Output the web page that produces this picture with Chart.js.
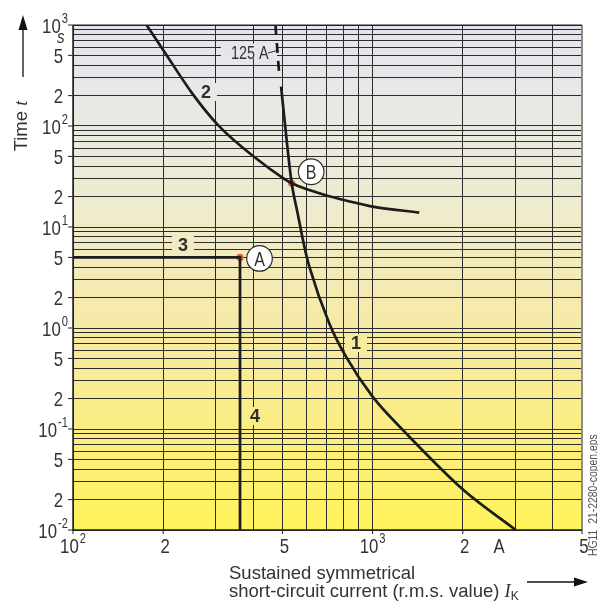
<!DOCTYPE html>
<html>
<head>
<meta charset="utf-8">
<script src="https://cdn.jsdelivr.net/npm/chart.js@4"></script>
<style>
  html, body { margin: 0; padding: 0; background: #fff; }
  #wrap { width: 598px; height: 602px; }
</style>
</head>
<body>
<div id="wrap"><canvas id="chart" width="598" height="602"></canvas></div>
<script>
// tick labels
const xLabelValues = [100, 200, 500, 1000, 2000, 5000];
const xLabelTexts = ['10', '2', '5', '10', '2', '5'];
const xLabelSups = ['2', '', '', '3', '', ''];
const yLabelValues = [1000, 500, 200, 100, 50, 20, 10, 5, 2, 1, 0.5, 0.2, 0.1, 0.05, 0.02, 0.01];
const yLabelTexts = ['10', '5', '2', '10', '5', '2', '10', '5', '2', '10', '5', '2', '10', '5', '2', '10'];
const yLabelSups = ['3', '', '', '2', '', '', '1', '', '', '0', '', '', '-1', '', '', '-2'];

// grid lines (1..9 per decade)
const xGridValues = [100, 200, 300, 400, 500, 600, 700, 800, 900, 1000, 2000, 3000, 4000, 5000];
const yGridValues = [];
for (let e = -2; e <= 2; e++) {
  for (let m = 1; m <= 9; m++) yGridValues.push(+(m * Math.pow(10, e)).toPrecision(3));
}
yGridValues.push(1000);

// curve 1: fuse 125 A (dashed upper part + solid)
const fuseDashX = [474, 481, 489];
const fuseDashY = [1000, 560, 299];
const fuseX = [495, 511, 537, 562, 592, 615, 717, 815, 1000, 1292, 2011, 3006];
const fuseY = [245, 98.4, 27.1, 13.7, 6.38, 4.05, 1.11, 0.52, 0.209, 0.091, 0.0249, 0.01];

// curve 2
const curve2X = [176, 202, 251, 306, 405, 504, 537, 615, 711, 815, 1000, 1431];
const curve2Y = [1000, 541, 207, 101, 48.7, 30.3, 27.1, 23.2, 20.3, 18.3, 15.9, 13.9];

// curves 3 + 4: setting lines meeting at A
const setX = [100, 361, 361];
const setY = [5, 5, 0.01];

// marked points A and B
const pointNames = ['A', 'B'];
const pointX = [361, 537];
const pointY = [5, 27.1];

const FONT = '"Liberation Sans", Arial, sans-serif';
const INK = '#2e2e2e';
const SQUEEZE = 0.8;

function pts(xs, ys) { return xs.map((x, i) => ({ x: x, y: ys[i] })); }

// condensed text: regular face squeezed horizontally
function narrowWidth(ctx, t, size) {
  ctx.font = size + 'px ' + FONT;
  return ctx.measureText(t).width * SQUEEZE;
}
function narrowText(ctx, t, x, y, size, style) {
  ctx.save();
  ctx.font = (style ? style + ' ' : '') + size + 'px ' + FONT;
  ctx.textAlign = 'left';
  ctx.textBaseline = 'alphabetic';
  ctx.translate(x, y);
  ctx.scale(SQUEEZE, 1);
  ctx.fillText(t, 0, 0);
  ctx.restore();
}

function drawPow(ctx, base, sup, x, y, align, size) {
  const ss = Math.round(size * 0.68);
  const wb = narrowWidth(ctx, base, size);
  const ws = sup ? narrowWidth(ctx, sup, ss) + 1 : 0;
  let x0 = x;
  if (align === 'right') x0 = x - wb - ws;
  if (align === 'center') x0 = x - (wb + ws) / 2;
  narrowText(ctx, base, x0, y, size);
  if (sup) narrowText(ctx, sup, x0 + wb + 1, y - size * 0.47, ss);
}

// box filled with the background so the grid is hidden behind a label
function labelBox(chart, x, y, w, h) {
  const ctx = chart.ctx;
  ctx.fillStyle = chart.$bg;
  ctx.fillRect(x - w / 2, y - h / 2, w, h);
}

const decor = {
  id: 'decor',
  beforeDraw(chart) {
    const { ctx, chartArea: a } = chart;
    const g = ctx.createLinearGradient(0, a.top, 0, a.bottom);
    g.addColorStop(0, '#e3e5ef');
    g.addColorStop(0.2, '#eae9e2');
    g.addColorStop(0.4, '#f0ebc8');
    g.addColorStop(0.6, '#f6eaa4');
    g.addColorStop(0.8, '#fbed84');
    g.addColorStop(1, '#fff35a');
    chart.$bg = g;
    ctx.save();
    ctx.fillStyle = g;
    ctx.fillRect(a.left, a.top, a.right - a.left, a.bottom - a.top);
    ctx.restore();
  },
  beforeDatasetsDraw(chart) {
    const ctx = chart.ctx;
    ctx.save();
    // curve numbers
    const nums = [['2', 206, 92], ['3', 183, 245], ['4', 255, 416], ['1', 356, 343]];
    nums.forEach(n => labelBox(chart, n[1], n[2], 22, 18));
    labelBox(chart, 249, 51, 56, 15);
    ctx.fillStyle = INK;
    ctx.font = 'bold 18px ' + FONT;
    ctx.textAlign = 'center';
    ctx.textBaseline = 'middle';
    nums.forEach(n => ctx.fillText(n[0], n[1], n[2] + 1));
    ctx.fillStyle = '#333';
    narrowText(ctx, '125 A', 231, 58.5, 18);
    ctx.strokeStyle = INK;
    ctx.lineWidth = 1;
    ctx.beginPath();
    ctx.moveTo(268, 53);
    ctx.lineTo(277, 50.5);
    ctx.stroke();
    ctx.restore();
  },
  afterDatasetsDraw(chart) {
    const ctx = chart.ctx;
    const xs = chart.scales.x, ys = chart.scales.y;
    const offs = [[19.5, 1], [19.5, -11.5]];
    ctx.save();
    pointNames.forEach((name, i) => {
      const cx = xs.getPixelForValue(pointX[i]) + offs[i][0];
      const cy = ys.getPixelForValue(pointY[i]) + offs[i][1];
      ctx.beginPath();
      ctx.arc(cx, cy, 12.8, 0, Math.PI * 2);
      ctx.fillStyle = '#fff';
      ctx.fill();
      ctx.lineWidth = 1.2;
      ctx.strokeStyle = INK;
      ctx.stroke();
      ctx.fillStyle = '#333';
      const w = narrowWidth(ctx, name, 20);
      narrowText(ctx, name, cx - w / 2, cy + 7.5, 20);
    });
    ctx.restore();
  },
  afterDraw(chart) {
    const { ctx, chartArea: a } = chart;
    const xs = chart.scales.x, ys = chart.scales.y;
    ctx.save();
    // frame
    ctx.strokeStyle = '#8c8c8c';
    ctx.lineWidth = 2;
    ctx.beginPath(); ctx.moveTo(a.right, a.top); ctx.lineTo(a.right, a.bottom); ctx.stroke();
    ctx.strokeStyle = '#222';
    ctx.lineWidth = 1.5;
    ctx.beginPath();
    ctx.moveTo(a.left, a.top); ctx.lineTo(a.left, a.bottom); ctx.lineTo(a.right, a.bottom);
    ctx.stroke();
    ctx.lineWidth = 1;
    ctx.beginPath(); ctx.moveTo(a.left, a.top); ctx.lineTo(a.right, a.top); ctx.stroke();

    // tick marks + labels
    ctx.fillStyle = '#333';
    ctx.lineWidth = 1;
    yLabelValues.forEach((v, i) => {
      const y = ys.getPixelForValue(v);
      ctx.beginPath(); ctx.moveTo(a.left - 5, y); ctx.lineTo(a.left, y); ctx.stroke();
      const right = yLabelSups[i] ? 68 : 63;
      drawPow(ctx, yLabelTexts[i], yLabelSups[i], right, y + 7.5, 'right', 21);
    });
    narrowText(ctx, 's', 57, 43, 19, 'italic');
    xLabelValues.forEach((v, i) => {
      const x = xs.getPixelForValue(v);
      ctx.beginPath(); ctx.moveTo(x, a.bottom); ctx.lineTo(x, a.bottom + 4); ctx.stroke();
      drawPow(ctx, xLabelTexts[i], xLabelSups[i], x + (xLabelSups[i] ? 0 : 2), 553, 'center', 21);
    });
    const wa = narrowWidth(ctx, 'A', 21);
    narrowText(ctx, 'A', 499 - wa / 2, 553, 21);

    // x axis title
    ctx.fillStyle = '#333';
    ctx.textAlign = 'left';
    ctx.textBaseline = 'alphabetic';
    ctx.font = '18.5px ' + FONT;
    ctx.fillText('Sustained symmetrical', 229, 579);
    const line2 = 'short-circuit current (r.m.s. value) ';
    ctx.fillText(line2, 229, 597);
    let px = 229 + ctx.measureText(line2).width;
    ctx.font = 'italic 18.5px "Liberation Serif", serif';
    ctx.fillText('I', px, 597);
    px += ctx.measureText('I').width;
    ctx.font = '12px ' + FONT;
    ctx.fillText('K', px, 600);

    // arrows
    ctx.strokeStyle = '#111';
    ctx.fillStyle = '#111';
    ctx.lineWidth = 1.3;
    ctx.beginPath(); ctx.moveTo(527, 582); ctx.lineTo(576, 582); ctx.stroke();
    ctx.beginPath(); ctx.moveTo(588, 582); ctx.lineTo(574, 577.5); ctx.lineTo(574, 586.5); ctx.closePath(); ctx.fill();
    ctx.beginPath(); ctx.moveTo(23, 77); ctx.lineTo(23, 26); ctx.stroke();
    ctx.beginPath(); ctx.moveTo(23, 15); ctx.lineTo(18.5, 30); ctx.lineTo(27.5, 30); ctx.closePath(); ctx.fill();

    // y axis title
    ctx.save();
    ctx.translate(22, 126);
    ctx.rotate(-Math.PI / 2);
    ctx.fillStyle = '#333';
    ctx.textBaseline = 'middle';
    ctx.font = '18.5px ' + FONT;
    const tw = ctx.measureText('Time ').width;
    ctx.font = 'italic 18.5px "Liberation Serif", serif';
    const tt = ctx.measureText('t').width;
    ctx.textAlign = 'left';
    ctx.font = '18.5px ' + FONT;
    ctx.fillText('Time ', -(tw + tt) / 2, 0);
    ctx.font = 'italic 18.5px "Liberation Serif", serif';
    ctx.fillText('t', -(tw + tt) / 2 + tw, 0);
    ctx.restore();

    // file tag
    ctx.save();
    ctx.translate(597, 556);
    ctx.rotate(-Math.PI / 2);
    ctx.fillStyle = '#555';
    narrowText(ctx, 'HG11  21-2280-copen.eps', 0, 0, 13);
    ctx.restore();

    ctx.restore();
  }
};

const curveStyle = {
  showLine: true,
  pointRadius: 0,
  borderColor: '#1c1c1c',
  borderWidth: 2.7,
  cubicInterpolationMode: 'monotone',
  fill: false
};

new Chart(document.getElementById('chart'), {
  type: 'scatter',
  data: {
    datasets: [
      Object.assign({ label: '1 (125 A, dashed)', data: pts(fuseDashX, fuseDashY), borderDash: [10, 8] }, curveStyle),
      Object.assign({ label: '1', data: pts(fuseX, fuseY) }, curveStyle),
      Object.assign({ label: '2', data: pts(curve2X, curve2Y) }, curveStyle),
      Object.assign({}, curveStyle, { label: '3 / 4', data: pts(setX, setY), cubicInterpolationMode: 'default', tension: 0, borderCapStyle: 'butt' }),
      {
        label: 'A / B',
        data: pts(pointX, pointY),
        showLine: false,
        pointRadius: 3.6,
        pointBackgroundColor: '#f2582a',
        pointBorderWidth: 0
      }
    ]
  },
  options: {
    responsive: false,
    animation: false,
    devicePixelRatio: 1,
    layout: { padding: { left: 73, right: 16, top: 25, bottom: 72 } },
    plugins: { legend: { display: false }, tooltip: { enabled: false } },
    scales: {
      x: {
        type: 'logarithmic',
        min: 100,
        max: 5000,
        afterBuildTicks: s => { s.ticks = xGridValues.map(v => ({ value: v })); },
        ticks: { display: false },
        border: { display: false },
        grid: {
          drawTicks: false,
          lineWidth: 1,
          color: c => (c.tick && c.tick.value === 5000) ? 'rgba(0,0,0,0)' : '#2b2b2b'
        }
      },
      y: {
        type: 'logarithmic',
        min: 0.01,
        max: 1000,
        afterBuildTicks: s => { s.ticks = yGridValues.map(v => ({ value: v })); },
        ticks: { display: false },
        border: { display: false },
        grid: { drawTicks: false, lineWidth: 1, color: '#2b2b2b' }
      }
    }
  },
  plugins: [decor]
});
</script>
</body>
</html>
